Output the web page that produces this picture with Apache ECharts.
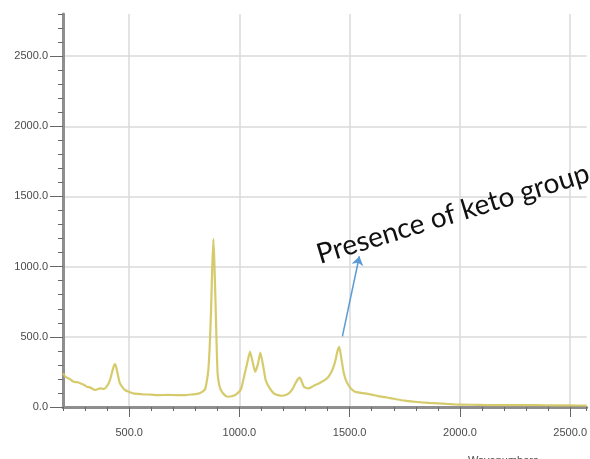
<!DOCTYPE html>
<html>
<head>
<meta charset="utf-8">
<script src="https://cdn.jsdelivr.net/npm/echarts@6/dist/echarts.min.js"></script>
<style>
  html, body { margin: 0; padding: 0; background: #ffffff; }
  #chart { width: 590px; height: 459px; }
</style>
</head>
<body>
<div id="chart"></div>
<script>
// Raman-style spectrum: wavenumber (cm-1) against intensity
const wavenumbers = [200,210,230,248,265,278,295,308,325,345,368,385,398,413,425,431,436,441,446,452,458,470,481,500,518,540,563,600,638,675,714,750,788,815,833,845,853,859,865,871,877,882,886,891,896,901,908,916,930,946,970,991,1008,1021,1035,1048,1060,1071,1083,1095,1107,1119,1135,1156,1175,1194,1210,1224,1240,1254,1265,1274,1283,1292,1303,1314,1330,1344,1360,1374,1390,1404,1416,1427,1436,1442,1448,1452,1456,1461,1467,1472,1482,1494,1508,1524,1545,1570,1600,1629,1660,1689,1712,1750,1790,1825,1860,1900,1940,1975,2050,2125,2200,2274,2350,2425,2500,2575];
const intensity = [240,216,200,180,176,169,158,145,138,121,133,128,145,192,263,295,306,285,251,205,169,140,121,108,97,93,90,88,85,86,85,84,90,95,109,130,192,263,420,669,1000,1196,1050,785,480,242,160,121,90,73,78,97,130,216,310,394,320,251,300,387,300,192,140,97,85,80,85,97,125,169,198,209,180,145,135,133,145,157,168,180,195,216,245,287,335,382,415,429,405,358,300,251,195,157,128,109,102,97,88,78,70,62,55,45,38,33,29,26,22,19,16,14,14,14,13,12,11,10];

// Axis ranges and labelled ticks
const xRange = [200, 2575];
const yRange = [0, 2800];
const xMajorTicks = [500, 1000, 1500, 2000, 2500];
const yMajorTicks = [0, 500, 1000, 1500, 2000, 2500];

// Annotation: arrow from the 1450 band up to the note text
const noteText = 'Presence of keto group';
const arrowFrom = [1467, 503];
const arrowTo = [1544, 1074];
const noteAnchor = [1372, 985];

const axisGray = '#8e8e8e';
const labelStyle = { color: '#4a4a4a', fontSize: 11, fontFamily: 'Liberation Sans, Arial, sans-serif' };

const chart = echarts.init(document.getElementById('chart'), null, { renderer: 'canvas' });

const points = wavenumbers.map((w, i) => [w, intensity[i]]);

chart.setOption({
  animation: false,
  backgroundColor: '#ffffff',
  grid: { left: 63, top: 14, right: 0, bottom: 52, containLabel: false },
  xAxis: [
    {
      type: 'value', position: 'bottom', min: xRange[0], max: xRange[1], interval: 100,
      axisLine: { show: true, lineStyle: { color: axisGray, width: 3 } },
      axisTick: { show: true, length: 4, lineStyle: { color: '#666', width: 1 } },
      axisLabel: { show: false },
      splitLine: { show: false }
    },
    {
      type: 'value', position: 'bottom', min: xRange[0], max: xRange[1],
      axisLine: { show: false },
      axisTick: { show: true, length: 10, customValues: xMajorTicks, lineStyle: { color: '#666', width: 1 } },
      axisLabel: Object.assign({ show: true, margin: 20, customValues: xMajorTicks, formatter: v => v.toFixed(1) }, labelStyle),
      splitLine: { show: true, lineStyle: { color: '#dadada', width: 1.5 } }
    }
  ],
  yAxis: [
    {
      type: 'value', position: 'left', min: yRange[0], max: yRange[1], interval: 100,
      axisLine: { show: true, lineStyle: { color: axisGray, width: 3 } },
      axisTick: { show: true, length: 5, lineStyle: { color: '#666', width: 1 } },
      axisLabel: { show: false },
      splitLine: { show: false }
    },
    {
      type: 'value', position: 'left', min: yRange[0], max: yRange[1],
      axisLine: { show: false },
      axisTick: { show: true, length: 13, customValues: yMajorTicks, lineStyle: { color: '#666', width: 1 } },
      axisLabel: Object.assign({ show: true, margin: 15, customValues: yMajorTicks, formatter: v => v.toFixed(1) }, labelStyle),
      splitLine: { show: true, lineStyle: { color: '#dadada', width: 1.5 } }
    }
  ],
  series: [
    {
      type: 'line',
      xAxisIndex: 0,
      yAxisIndex: 0,
      data: points,
      showSymbol: false,
      smooth: 0.15,
      lineStyle: { color: '#d2c55c', width: 2.2, opacity: 0.9 },
      markLine: {
        silent: true,
        symbol: ['none', 'arrow'],
        symbolSize: 9,
        label: { show: false },
        lineStyle: { color: '#5b9bd5', width: 1.5, type: 'solid' },
        data: [[{ coord: arrowFrom }, { coord: arrowTo }]]
      }
    }
  ]
});

// Rotated note text and the axis title, placed after the axes are laid out
const notePx = chart.convertToPixel({ xAxisIndex: 0, yAxisIndex: 0 }, noteAnchor);
chart.setOption({
  graphic: [
    {
      type: 'text',
      x: notePx[0], y: notePx[1],
      rotation: 17 * Math.PI / 180,
      style: {
        text: noteText,
        font: '28px Lato, "Open Sans", sans-serif',
        fill: '#111111',
        textAlign: 'left',
        textVerticalAlign: 'bottom'
      }
    },
    {
      type: 'text',
      left: 468, top: 455,
      style: {
        text: 'Wavenumbers',
        font: '11px "Liberation Sans", Arial, sans-serif',
        fill: '#4a4a4a'
      }
    }
  ]
});
</script>
</body>
</html>
